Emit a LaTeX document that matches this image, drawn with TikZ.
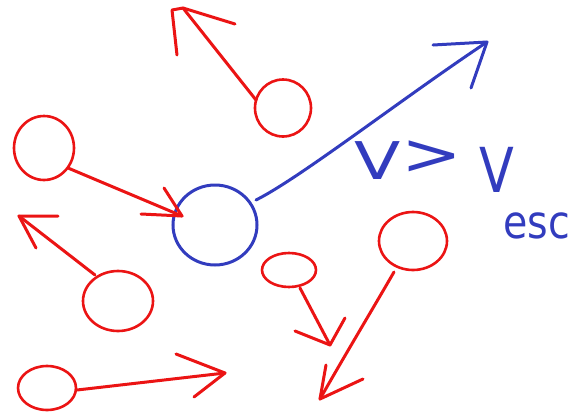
\documentclass[tikz,border=0pt]{standalone}
\usepackage{fontspec}
\setsansfont{DejaVu Sans}
\usetikzlibrary{shapes.geometric}
\definecolor{pen}{RGB}{235,20,20}
\definecolor{bpen}{RGB}{50,60,190}
\tikzset{
  redstroke/.style={draw=pen,line width=3pt,line cap=round,line join=round},
  bluestroke/.style={draw=bpen,line width=3pt,line cap=round,line join=round},
  blob/.style={ellipse,inner sep=0pt,line width=2.6pt},
  glyph/.style={text=bpen,inner sep=0pt,text depth=0pt,font=\sffamily},
}
\begin{document}
\begin{tikzpicture}[x=1pt,y=-1pt]
\useasboundingbox (0,0) rectangle (582,413);
% circles
\node[blob,draw=pen,minimum width=56pt,minimum height=57pt] (c1) at (283,108) {};
\node[blob,draw=pen,minimum width=60pt,minimum height=64pt] (c2) at (44,148) {};
\node[blob,draw=bpen,minimum width=84pt,minimum height=80pt,line width=3pt] (cb) at (215,225) {};
\node[blob,draw=pen,minimum width=70pt,minimum height=60pt] (c3) at (118,301) {};
\node[blob,draw=pen,minimum width=58pt,minimum height=44pt] (c4) at (47,388) {};
\node[blob,draw=pen,minimum width=54pt,minimum height=34pt] (c5) at (289,270) {};
\node[blob,draw=pen,minimum width=68pt,minimum height=58pt] (c6) at (413,241) {};
% tips
\coordinate (t1) at (183,8);
\coordinate (t2) at (182,216);
\coordinate (tb) at (487,42);
\coordinate (t3) at (19,216);
\coordinate (t4) at (225,373);
\coordinate (t5) at (330,345);
\coordinate (t6) at (320,399);
% shafts
\draw[redstroke] (256,100) -- (t1);
\draw[redstroke] (68,168) -- (t2);
\draw[bluestroke] (256,200) .. controls (300,178) and (400,100) .. (tb);
\draw[redstroke] (95,275) -- (t3);
\draw[redstroke] (77,390) -- (t4);
\draw[redstroke] (300,288) -- (t5);
\draw[redstroke] (394,272) .. controls (375,305) and (345,355) .. (t6);
% barbs
\draw[redstroke] (177,55) -- (172,10) -- (t1) -- (235,24);
\draw[redstroke] (164,188) -- (t2) -- (141,214);
\draw[bluestroke] (433,45) -- (tb) -- (471,88);
\draw[redstroke] (58,216) -- (t3) -- (36,248);
\draw[redstroke] (176,354) -- (t4) -- (194,397);
\draw[redstroke] (295,331) -- (t5) -- (345,318);
\draw[redstroke] (363,379) -- (t6) -- (326,365);
% text  v > v_esc
\node[glyph,font=\sffamily\fontsize{52}{52}\selectfont,text height=38pt,xscale=1.3] (g1) at (378,160) {V};
\node[glyph,font=\sffamily\fontsize{58}{58}\selectfont,text height=32pt,xscale=1.25] (g2) at (432,158) {>};
\node[glyph,font=\sffamily\fontsize{62}{62}\selectfont,text height=45pt,xscale=0.82] (g3) at (497,170) {V};
\node[glyph,font=\sffamily\fontsize{46}{46}\selectfont,text height=25pt,xscale=0.86] (g4) at (537,226) {esc};
\end{tikzpicture}
\end{document}
